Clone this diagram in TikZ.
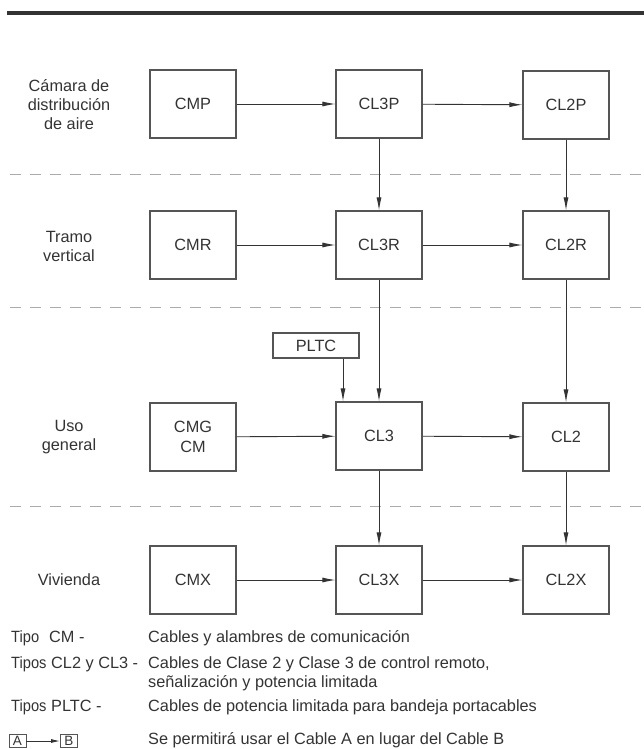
\documentclass[tikz,border=0pt]{standalone}
\usepackage{fontspec}
\setmainfont{Liberation Sans}
\usetikzlibrary{arrows.meta}
\definecolor{ink}{HTML}{333333}
\definecolor{frame}{HTML}{555555}
\definecolor{sep}{HTML}{ABABAB}
\newcommand{\narrowword}[1]{\scalebox{0.9}[1]{#1}}

\begin{document}
\begin{tikzpicture}[x=1bp,y=-1bp,
  every node/.style={font=\fontsize{16.3bp}{19bp}\selectfont, text=ink},
  cablebox/.style={draw=frame, line width=1.1bp, minimum width=86bp,
    minimum height=68bp, inner sep=0pt, align=center},
  flow/.style={draw=ink, line width=0.9bp, -{Latex[length=13bp,width=5bp]}},
  zone/.style={draw=sep, line width=0.9bp, dash pattern=on 11bp off 9bp},
  rowlabel/.style={align=center},
  legend/.style={anchor=base west, inner sep=0pt},
  keybox/.style={draw=frame, line width=0.9bp, inner sep=0pt,
    minimum width=17bp, minimum height=13bp, font=\fontsize{13.5bp}{15bp}\selectfont}]

\useasboundingbox (0,0) rectangle (644,749);

% heading rule
\draw[line width=3.5bp, draw=ink] (7,13) -- (644,13);

% zone separators
\draw[zone] (10,174) -- (644,174);
\draw[zone] (10,307) -- (644,307);
\draw[zone] (10,506) -- (644,506);

% zone names
\node[rowlabel] (zplenum) at (69,105) {Cámara de\\distribución\\de aire};
\node[rowlabel] (zriser) at (69,246) {Tramo\\vertical};
\node[rowlabel] (zgeneral) at (69,437) {Uso\\general};
\node[rowlabel] (zdwelling) at (69,580) {Vivienda};

% cable types
\node[cablebox] (cmp)  at (193,104) {CMP};
\node[cablebox] (cl3p) at (379,104) {CL3P};
\node[cablebox] (cl2p) at (566,105) {CL2P};

\node[cablebox] (cmr)  at (193,245) {CMR};
\node[cablebox] (cl3r) at (379,245) {CL3R};
\node[cablebox] (cl2r) at (566,245) {CL2R};

\node[cablebox] (cmg)  at (193,437) {CMG\\[1bp]CM};
\node[cablebox] (cl3)  at (379,436) {CL3};
\node[cablebox] (cl2)  at (566,437) {CL2};

\node[cablebox] (cmx)  at (193,580) {CMX};
\node[cablebox] (cl3x) at (379,580) {CL3X};
\node[cablebox] (cl2x) at (566,580) {CL2X};

\node[draw=frame, line width=1.1bp, minimum width=86bp, minimum height=25bp,
  inner sep=0pt] (pltc) at (316,345.5) {PLTC};

% substitutions
\draw[flow] (cmp) -- (cl3p);
\draw[flow] (cl3p) -- (cl2p);
\draw[flow] (cmr) -- (cl3r);
\draw[flow] (cl3r) -- (cl2r);
\draw[flow] (cmg) -- (cl3);
\draw[flow] (cl3) -- (cl2);
\draw[flow] (cmx) -- (cl3x);
\draw[flow] (cl3x) -- (cl2x);

\draw[flow] (cl3p) -- (cl3r);
\draw[flow] (cl2p) -- (cl2r);
\draw[flow] (cl3r) -- (cl3);
\draw[flow] (cl2r) -- (cl2);
\draw[flow] (cl3) -- (cl3x);
\draw[flow] (cl2) -- (cl2x);
\draw[flow] ([xshift=27bp]pltc.south) -- ([xshift=27bp]pltc.south |- cl3.north);

% legend
\node[legend] (l1a) at (11,642.5) {\narrowword{Tipo}};
\node[legend] (l1b) at (49,642.5) {CM -};
\node[legend] (l1c) at (148,642.5) {Cables y alambres de comunicación};
\node[legend] (l2a) at (11,668) {\narrowword{Tipos}};
\node[legend] (l2b) at (51,668) {CL2 y CL3 -};
\node[legend] (l2c) at (148,668) {Cables de Clase 2 y Clase 3 de control remoto,};
\node[legend] (l2d) at (148,687) {señalización y potencia limitada};
\node[legend] (l3a) at (11,711) {\narrowword{Tipos}};
\node[legend] (l3b) at (51,711) {PLTC -};
\node[legend] (l3c) at (148,711) {Cables de potencia limitada para bandeja portacables};

\node[keybox] (ka) at (17.5,741) {A};
\node[keybox] (kb) at (69,741) {B};
\draw[flow, -{Latex[length=9bp,width=4bp]}] (ka) -- (kb);
\node[legend] (l4) at (148,744) {Se permitirá usar el Cable A en lugar del Cable B};
\end{tikzpicture}
\end{document}
